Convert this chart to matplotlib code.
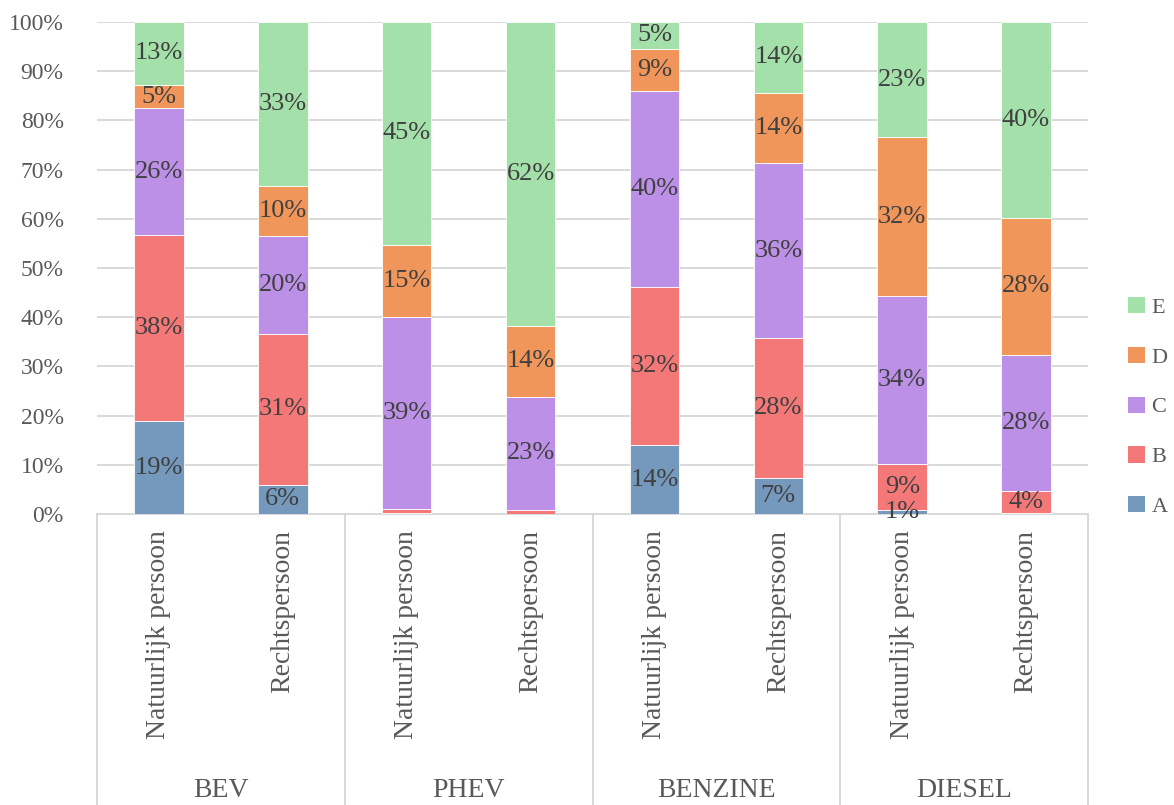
import numpy as np
import matplotlib
matplotlib.use('Agg')
import matplotlib.pyplot as plt
import matplotlib.transforms as mtransforms
from matplotlib.patches import Patch

plt.rcParams['font.family'] = ['Liberation Serif', 'DejaVu Serif']

groups   = ['BEV', 'PHEV', 'BENZINE', 'DIESEL']
owners   = ['Natuurlijk persoon', 'Rechtspersoon']
series   = ['A', 'B', 'C', 'D', 'E']

# share per series (%), one entry per bar, left to right
A = [18.9, 5.9, 0.2, 0.1, 14.0, 7.4, 0.9, 0.3]
B = [37.8, 30.7, 0.9, 0.7, 32.1, 28.3, 9.3, 4.4]
C = [25.8, 19.9, 38.9, 23.0, 39.7, 35.5, 34.1, 27.6]
D = [4.7, 10.1, 14.7, 14.4, 8.7, 14.3, 32.3, 27.9]
E = [12.8, 33.4, 45.3, 61.8, 5.4, 14.4, 23.4, 39.8]

# data labels left out in the source chart
hidden = {('A', 2), ('B', 2), ('A', 3), ('B', 3), ('A', 7)}

COLORS = {'A': '#7499bd', 'B': '#f47878', 'C': '#bb90e6',
          'D': '#f0965a', 'E': '#a4e0a9'}
GRID   = '#d9d9d9'
TXT    = '#404040'
TICK   = '#595959'

data = np.array([A, B, C, D, E])
data = data / data.sum(axis=0) * 100
n_bar = data.shape[1]
x = np.arange(n_bar)

fig = plt.figure(figsize=(11.74, 8.05), dpi=100)
ax = fig.add_axes([97 / 1174, 1 - 514 / 805, 991 / 1174, 492 / 805])

bottom = np.zeros(n_bar)
for k, name in enumerate(series):
    vals = data[k]
    ax.bar(x, vals, bottom=bottom, width=0.40, color=COLORS[name],
           edgecolor='white', linewidth=0.6, zorder=3)
    for i, v in enumerate(vals):
        if (name, i) in hidden or v < 0.05:
            continue
        ax.text(x[i], bottom[i] + v / 2, f'{round(v):d}%', ha='center',
                va='center', fontsize=19, color=TXT, zorder=4)
    bottom += vals

ax.set_xlim(-0.5, n_bar - 0.5)
ax.set_ylim(0, 100)
ax.set_yticks(np.arange(0, 101, 10))
ax.set_yticklabels([f'{t}%' for t in range(0, 101, 10)])
ax.tick_params(axis='y', length=0, pad=24, labelsize=17, labelcolor=TICK)
ax.set_xticks([])
ax.grid(axis='y', color=GRID, linewidth=1.4, zorder=0)
for s in ax.spines.values():
    s.set_visible(False)

trans = mtransforms.blended_transform_factory(ax.transData, ax.transAxes)
low = -(805 - 514) / 492
ax.plot([-0.5, n_bar - 0.5], [0, 0], transform=trans, color=GRID,
        linewidth=1.4, clip_on=False, zorder=2)
for b in np.arange(-0.5, n_bar, 2):
    ax.plot([b, b], [0, low], transform=trans, color=GRID, linewidth=1.4,
            clip_on=False)

for i in x:
    ax.text(i, -0.032, owners[i % 2], transform=trans, rotation=90,
            ha='center', va='top', fontsize=20, color=TICK)
for g, name in enumerate(groups):
    ax.text(2 * g + 0.5, -0.561, name, transform=trans, ha='center',
            va='center', fontsize=20, color=TICK)

handles = [Patch(facecolor=COLORS[s], label=s) for s in reversed(series)]
fig.legend(handles=handles, loc='center left',
           bbox_to_anchor=(1128 / 1174, 1 - 407 / 805), frameon=False,
           borderpad=0, borderaxespad=0,
           fontsize=16, handlelength=0.75, handleheight=0.75,
           handletextpad=0.3, labelspacing=1.3, labelcolor=TICK)

fig.savefig('out.png', dpi=100)
